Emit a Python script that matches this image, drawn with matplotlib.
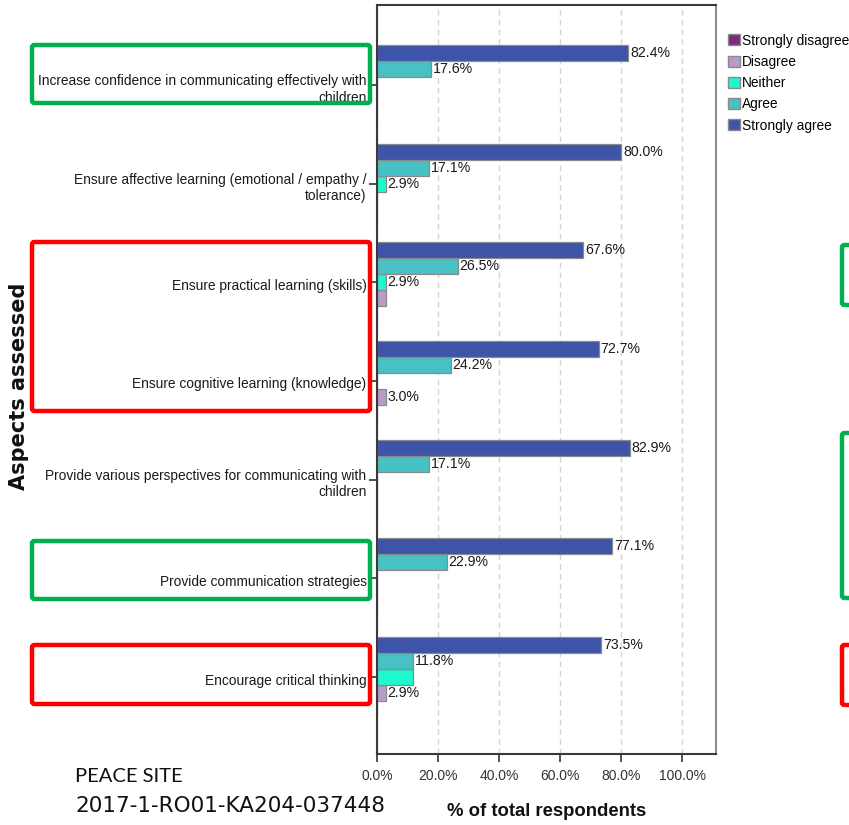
import numpy as np
import matplotlib
matplotlib.use('Agg')
import matplotlib.pyplot as plt
from matplotlib.patches import FancyBboxPatch, Patch
from matplotlib.transforms import ScaledTranslation

# data (% of total respondents)
Categories = ['Increase confidence in communicating effectively with\nchildren',
              'Ensure affective learning (emotional / empathy /\ntolerance)',
              'Ensure practical learning (skills)',
              'Ensure cognitive learning (knowledge)',
              'Provide various perspectives for communicating with\nchildren',
              'Provide communication strategies',
              'Encourage critical thinking']
Series_names = ['Strongly disagree', 'Disagree', 'Neither', 'Agree', 'Strongly agree']
Strongly_disagree = [0, 0, 0, 0, 0, 0, 0]
Disagree = [0, 0, 2.9, 3.0, 0, 0, 2.9]
Neither = [0, 2.9, 2.9, 0, 0, 0, 11.8]
Agree = [17.6, 17.1, 26.5, 24.2, 17.1, 22.9, 11.8]
Strongly_agree = [82.4, 80.0, 67.6, 72.7, 82.9, 77.1, 73.5]
Hidden_labels = [(2, 'Disagree'), (6, 'Neither')]     # labels SPSS dropped (overlap)
Xticks = [0, 20, 40, 60, 80, 100]

Colors = {'Strongly disagree': '#7b2a80', 'Disagree': '#b69ccb', 'Neither': '#1ff7cf',
          'Agree': '#47c1c4', 'Strongly agree': '#3d54a8'}
Font = 'Liberation Sans'

W, H = 849, 825
Fig = plt.figure(figsize=(W/100, H/100), dpi=100)
Ax = Fig.add_axes([377/W, 1-754/H, (716-377)/W, (754-5)/H])

def px(x0, y0, x1, y1):
    # pixel box -> figure fraction (x, y, w, h)
    return x0/W, 1-y1/H, (x1-x0)/W, (y1-y0)/H

Bar_h = 0.162
Offsets = {'Strongly agree': -2, 'Agree': -1, 'Neither': 0, 'Disagree': 1, 'Strongly disagree': 2}
Values = {'Strongly disagree': Strongly_disagree, 'Disagree': Disagree, 'Neither': Neither,
          'Agree': Agree, 'Strongly agree': Strongly_agree}
Index = np.arange(len(Categories))
for name in Series_names:
    ypos = Index + Offsets[name]*Bar_h
    vals = Values[name]
    Ax.barh(ypos, vals, Bar_h, color=Colors[name], edgecolor='#8a8a8a', linewidth=0.9, zorder=3)
    for i, (y, v) in enumerate(zip(ypos, vals)):
        if v <= 0 or (i, name) in Hidden_labels:
            continue
        Ax.text(v + 0.6, y, '%.1f%%' % v, ha='left', va='center', fontsize=10.2,
                family=Font, color='#1a1a1a', zorder=4)

Ax.set_ylim(6.78, -0.81)
Ax.set_xlim(0, 111.1)
Ax.set_xticks(Xticks)
Ax.set_xticklabels(['%.1f%%' % t for t in Xticks], fontsize=10, family=Font, color='#333333')
Ax.tick_params(axis='y', length=6, width=1.2, pad=1.5, color='#333333')
Ax.tick_params(axis='x', length=6, width=1.2, pad=5, color='#333333')
Ax.set_yticks(Index)
Ax.set_yticklabels(Categories, fontsize=9.9, family=Font, color='#1a1a1a',
                   ha='right', linespacing=1.2)
# labels sit a little below their tick in the SPSS output
Shift = ScaledTranslation(0, -2/100, Fig.dpi_scale_trans)
for tick in Ax.yaxis.get_major_ticks():
    tick.label1.set_transform(tick.label1.get_transform() + Shift)
Ax.grid(axis='x', color='#d4d4d4', linestyle=(0, (4, 3)), linewidth=1, zorder=0)
for s in ['left', 'top', 'bottom']:
    Ax.spines[s].set_color('#3a3a3a')
    Ax.spines[s].set_linewidth(1.5)
    Ax.spines[s].set_zorder(5)
Ax.spines['right'].set_color('#8c8c8c')
Ax.spines['right'].set_linewidth(1.5)

# legend
Handles = [Patch(facecolor=Colors[n], edgecolor='#8a8a8a', label=n) for n in Series_names]
Fig.legend(handles=Handles, loc='upper left', bbox_to_anchor=(728/W, 1-33.5/H), frameon=False,
           prop={'family': Font, 'size': 9.9}, handlelength=0.86, handleheight=0.86,
           handletextpad=0.15, labelspacing=0.53, borderaxespad=0, borderpad=0)

# axis titles
Fig.text(19/W, 1-386/H, 'Aspects assessed', rotation=90, ha='center', va='center',
         fontsize=15, fontweight='bold', family='DejaVu Sans', color='#111111')
Fig.text(547/W, 1-812/H, '% of total respondents', ha='center', va='center',
         fontsize=13.3, fontweight='bold', family=Font, color='#111111')

Fig.text(75/W, 1-777/H, 'PEACE SITE', ha='left', va='center', fontsize=14.5, family='Lato', color='#111111')
Fig.text(75/W, 1-806/H, '2017-1-RO01-KA204-037448', ha='left', va='center', fontsize=15.5,
         family='DejaVu Sans', color='#111111')

# highlight boxes
Boxes = [((32, 45, 370, 103), '#00b050'), ((32, 242, 370, 411), '#ff0000'),
         ((32, 541, 370, 599), '#00b050'), ((32, 645, 370, 704), '#ff0000'),
         ((842, 245, 880, 305), '#00b050'), ((842, 433, 880, 598), '#00b050'),
         ((842, 645, 880, 705), '#ff0000')]
for (x0, y0, x1, y1), c in Boxes:
    x, y, w, h = px(x0, y0, x1, y1)
    Fig.patches.append(FancyBboxPatch((x, y), w, h, boxstyle='round,pad=0,rounding_size=0.003',
                                      transform=Fig.transFigure, fill=False, edgecolor=c,
                                      linewidth=3.2, zorder=10))

Fig.savefig('out.png', dpi=100)
plt.close(Fig)
